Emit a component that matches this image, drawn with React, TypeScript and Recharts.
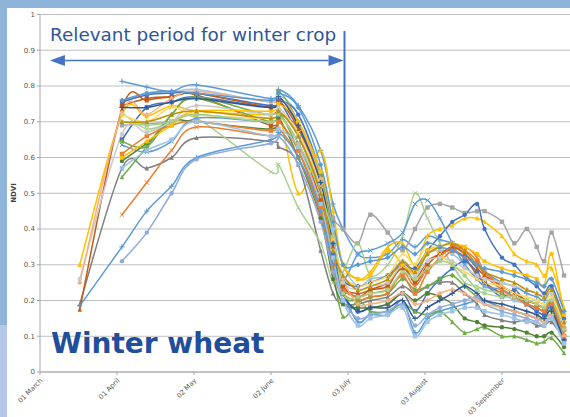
import React from "react"
import { LineChart, Line, XAxis, YAxis, CartesianGrid, ReferenceLine } from "recharts"

// days counted from 01 March
const obsDays = [16, 33, 43, 53, 63, 93, 96, 104, 113, 118, 122, 128, 133, 140, 146, 151, 156, 161, 166, 171, 176, 179, 186, 191, 196, 200, 203, 206, 211]

const tickDays = [0, 31, 62, 93, 124, 155, 186]
const tickLabels = ["01 March", "01 April", "02 May", "02 June", "03 July", "03 August", "03 September"]
const ndviTicks = [0, 0.1, 0.2, 0.3, 0.4, 0.5, 0.6, 0.7, 0.8, 0.9, 1]

const parcel01 = [null, 0.813, 0.797, 0.785, 0.803, 0.765, 0.79, 0.745, 0.62, 0.47, 0.4, 0.33, 0.32, 0.33, 0.37, 0.35, 0.38, 0.37, 0.36, 0.33, 0.3, 0.28, 0.25, 0.24, 0.22, 0.21, 0.2, 0.22, 0.14]
const parcel02 = [null, 0.755, 0.78, 0.78, 0.79, 0.755, 0.775, 0.72, 0.56, 0.4, 0.3, 0.24, 0.26, 0.27, 0.31, 0.27, 0.33, 0.34, 0.33, 0.3, 0.26, 0.24, 0.22, 0.2, 0.19, 0.17, 0.16, 0.18, 0.1]
const parcel03 = [null, 0.745, 0.765, 0.77, 0.775, 0.69, 0.72, 0.64, 0.48, 0.32, 0.24, 0.21, 0.23, 0.24, 0.3, 0.25, 0.3, 0.33, 0.34, 0.32, 0.27, 0.25, 0.22, 0.21, 0.19, 0.18, 0.17, 0.19, 0.12]
const parcel04 = [null, 0.65, 0.74, 0.755, 0.77, 0.74, 0.76, 0.66, 0.5, 0.33, 0.22, 0.17, 0.18, 0.19, 0.22, 0.17, 0.22, 0.26, 0.29, 0.31, 0.28, 0.25, 0.21, 0.23, 0.19, 0.17, 0.16, 0.18, 0.09]
const parcel05 = [0.3, 0.72, 0.715, 0.745, 0.73, 0.72, 0.74, 0.5, 0.62, 0.45, 0.3, 0.26, 0.28, 0.35, 0.36, 0.3, 0.38, 0.4, 0.41, 0.43, 0.43, 0.42, 0.38, 0.33, 0.31, 0.3, 0.27, 0.29, 0.18]
const parcel06 = [null, 0.69, 0.695, 0.7, 0.72, 0.7, 0.73, 0.66, 0.52, 0.43, 0.4, 0.36, 0.44, 0.39, 0.34, 0.4, 0.46, 0.47, 0.46, 0.445, 0.45, 0.45, 0.42, 0.36, 0.4, 0.35, 0.31, 0.39, 0.27]
const parcel07 = [0.19, 0.57, 0.57, 0.6, 0.655, 0.645, 0.63, 0.58, 0.34, 0.22, 0.19, 0.19, 0.2, 0.21, 0.24, 0.22, 0.24, 0.25, 0.25, 0.22, 0.19, 0.16, 0.145, 0.14, 0.145, 0.13, 0.13, 0.14, 0.09]
const parcel08 = [null, 0.725, 0.68, 0.7, 0.71, 0.56, 0.58, 0.46, 0.36, 0.25, 0.28, 0.36, 0.27, 0.3, 0.38, 0.5, 0.43, 0.36, 0.3, 0.25, 0.24, 0.23, 0.22, 0.21, 0.2, 0.19, 0.18, 0.2, 0.12]
const parcel09 = [null, 0.755, 0.775, 0.78, 0.78, 0.745, 0.76, 0.72, 0.55, 0.38, 0.26, 0.24, 0.25, 0.27, 0.3, 0.29, 0.34, 0.38, 0.42, 0.44, 0.47, 0.4, 0.32, 0.3, 0.26, 0.24, 0.22, 0.24, 0.15]
const parcel10 = [null, 0.635, 0.615, 0.645, 0.71, 0.7, 0.72, 0.68, 0.52, 0.36, 0.26, 0.33, 0.34, 0.36, 0.39, 0.47, 0.48, 0.43, 0.36, 0.3, 0.26, 0.24, 0.23, 0.21, 0.19, 0.18, 0.17, 0.19, 0.12]
const parcel11 = [null, 0.545, 0.63, 0.72, 0.765, 0.7, 0.73, 0.62, 0.45, 0.28, 0.155, 0.2, 0.17, 0.17, 0.19, 0.17, 0.16, 0.17, 0.14, 0.11, 0.12, 0.125, 0.1, 0.1, 0.09, 0.08, 0.085, 0.095, 0.053]
const parcel12 = [null, 0.59, 0.64, 0.7, 0.7, 0.68, 0.71, 0.6, 0.43, 0.26, 0.19, 0.18, 0.18, 0.19, 0.22, 0.2, 0.22, 0.21, 0.19, 0.15, 0.14, 0.13, 0.125, 0.12, 0.11, 0.1, 0.1, 0.11, 0.07]
const parcel13 = [null, 0.645, 0.63, 0.72, 0.77, 0.72, 0.785, 0.7, 0.55, 0.38, 0.22, 0.2, 0.21, 0.22, 0.26, 0.23, 0.24, 0.26, 0.27, 0.24, 0.21, 0.2, 0.18, 0.17, 0.16, 0.15, 0.15, 0.17, 0.1]
const parcel14 = [null, 0.44, 0.53, 0.62, 0.685, 0.66, 0.68, 0.6, 0.44, 0.29, 0.22, 0.2, 0.21, 0.22, 0.28, 0.24, 0.29, 0.31, 0.34, 0.35, 0.32, 0.28, 0.24, 0.22, 0.2, 0.19, 0.18, 0.19, 0.11]
const parcel15 = [null, 0.61, 0.66, 0.69, 0.7, 0.675, 0.7, 0.62, 0.46, 0.3, 0.23, 0.21, 0.22, 0.23, 0.27, 0.22, 0.28, 0.32, 0.35, 0.34, 0.31, 0.27, 0.23, 0.21, 0.19, 0.18, 0.17, 0.19, 0.1]
const parcel16 = [0.185, 0.35, 0.45, 0.52, 0.6, 0.65, 0.67, 0.6, 0.45, 0.3, 0.22, 0.14, 0.16, 0.16, 0.2, 0.11, 0.15, 0.17, 0.18, 0.19, 0.2, 0.2, 0.18, 0.17, 0.16, 0.15, 0.14, 0.16, 0.09]
const parcel17 = [null, 0.31, 0.39, 0.5, 0.595, 0.64, 0.66, 0.58, 0.42, 0.28, 0.2, 0.15, 0.16, 0.17, 0.19, 0.13, 0.16, 0.18, 0.19, 0.2, 0.21, 0.19, 0.17, 0.16, 0.15, 0.14, 0.13, 0.15, 0.08]
const parcel18 = [0.175, 0.735, 0.76, 0.77, 0.78, 0.74, 0.76, 0.68, 0.52, 0.35, 0.24, 0.22, 0.23, 0.25, 0.29, 0.26, 0.31, 0.33, 0.35, 0.33, 0.29, 0.27, 0.24, 0.22, 0.2, 0.19, 0.18, 0.2, 0.13]
const parcel19 = [0.26, 0.665, 0.67, 0.7, 0.745, 0.72, 0.74, 0.66, 0.5, 0.34, 0.25, 0.23, 0.24, 0.25, 0.3, 0.27, 0.31, 0.32, 0.31, 0.29, 0.27, 0.26, 0.25, 0.24, 0.23, 0.22, 0.21, 0.22, 0.14]
const parcel20 = [0.25, 0.725, 0.72, 0.765, 0.785, 0.755, 0.77, 0.7, 0.54, 0.37, 0.26, 0.19, 0.19, 0.2, 0.22, 0.19, 0.2, 0.22, 0.23, 0.22, 0.2, 0.19, 0.18, 0.17, 0.16, 0.15, 0.14, 0.16, 0.1]
const parcel21 = [null, 0.6, 0.645, 0.69, 0.73, 0.73, 0.75, 0.7, 0.56, 0.42, 0.3, 0.26, 0.27, 0.34, 0.3, 0.28, 0.34, 0.35, 0.36, 0.35, 0.33, 0.31, 0.29, 0.28, 0.27, 0.26, 0.24, 0.33, 0.16]
const parcel22 = [null, 0.72, 0.7, 0.74, 0.72, 0.71, 0.73, 0.67, 0.52, 0.37, 0.27, 0.24, 0.25, 0.27, 0.33, 0.3, 0.36, 0.33, 0.3, 0.28, 0.26, 0.25, 0.24, 0.22, 0.21, 0.2, 0.19, 0.21, 0.13]
const parcel23 = [null, 0.74, 0.74, 0.755, 0.765, 0.74, 0.77, 0.69, 0.53, 0.36, 0.22, 0.17, 0.18, 0.18, 0.2, 0.15, 0.18, 0.2, 0.22, 0.24, 0.22, 0.2, 0.19, 0.18, 0.17, 0.16, 0.15, 0.17, 0.09]
const parcel24 = [null, 0.57, 0.62, 0.65, 0.7, 0.66, 0.68, 0.63, 0.47, 0.32, 0.2, 0.13, 0.15, 0.16, 0.18, 0.1, 0.14, 0.16, 0.17, 0.18, 0.18, 0.17, 0.16, 0.15, 0.14, 0.14, 0.13, 0.15, 0.08]
const parcel25 = [null, 0.7, 0.69, 0.7, 0.72, 0.7, 0.72, 0.64, 0.5, 0.38, 0.22, 0.21, 0.22, 0.23, 0.28, 0.26, 0.29, 0.31, 0.3, 0.27, 0.23, 0.22, 0.21, 0.21, 0.2, 0.19, 0.18, 0.2, 0.12]
const parcel26 = [null, 0.7, 0.7, 0.72, 0.73, 0.71, 0.73, 0.66, 0.5, 0.34, 0.27, 0.23, 0.24, 0.26, 0.31, 0.28, 0.33, 0.35, 0.36, 0.34, 0.3, 0.28, 0.26, 0.25, 0.23, 0.22, 0.21, 0.23, 0.14]
const parcel27 = [null, 0.76, 0.78, 0.785, 0.78, 0.76, 0.78, 0.74, 0.58, 0.42, 0.3, 0.3, 0.31, 0.32, 0.35, 0.33, 0.36, 0.35, 0.34, 0.32, 0.3, 0.29, 0.28, 0.27, 0.26, 0.25, 0.24, 0.26, 0.17]

const parcels = [
  parcel01, parcel02, parcel03, parcel04, parcel05, parcel06, parcel07, parcel08, parcel09,
  parcel10, parcel11, parcel12, parcel13, parcel14, parcel15, parcel16, parcel17, parcel18,
  parcel19, parcel20, parcel21, parcel22, parcel23, parcel24, parcel25, parcel26, parcel27,
]

const parcelColors = [
  "#5B9BD5", "#9DC3E6", "#C55A11", "#4472C4", "#FFC000", "#A5A5A5", "#7F7F7F", "#A9D18E", "#4472C4",
  "#5B9BD5", "#70AD47", "#548235", "#70AD47", "#ED7D31", "#ED7D31", "#5B9BD5", "#8FAADC", "#C55A11",
  "#C9C9C9", "#F4B183", "#FFC000", "#FFD966", "#2F5597", "#9DC3E6", "#A9D18E", "#BF9000", "#5B9BD5",
]

const parcelMarkers = [
  "plus", "circle", "square", "square", "triangle", "square", "triangle", "x", "circle",
  "x", "triangle", "circle", "diamond", "x", "square", "plus", "circle", "triangle",
  "circle", "diamond", "circle", "x", "plus", "square", "circle", "triangle", "diamond",
]

const rows = obsDays.map((day, i) => {
  const row: Record<string, number | null> = { day }
  parcels.forEach((p, k) => {
    row[`p${k}`] = p[i]
  })
  return row
})

// excel-like smoothed line (catmull-rom through the points)
function excelSmooth(context: any) {
  let pts: number[][] = []
  return {
    areaStart() {},
    areaEnd() {},
    lineStart() {
      pts = []
    },
    point(x: number, y: number) {
      pts.push([+x, +y])
    },
    lineEnd() {
      if (!pts.length) return
      context.moveTo(pts[0][0], pts[0][1])
      for (let i = 0; i < pts.length - 1; i++) {
        const p0 = pts[i - 1] || pts[i]
        const p1 = pts[i]
        const p2 = pts[i + 1]
        const p3 = pts[i + 2] || p2
        context.bezierCurveTo(
          p1[0] + (p2[0] - p0[0]) / 6,
          p1[1] + (p2[1] - p0[1]) / 6,
          p2[0] - (p3[0] - p1[0]) / 6,
          p2[1] - (p3[1] - p1[1]) / 6,
          p2[0],
          p2[1]
        )
      }
    },
  }
}

function markerDot(shape: string, color: string) {
  return (props: any) => {
    const { cx, cy, index } = props
    const key = `m-${index}`
    if (cx == null || cy == null || props.value == null) return <g key={key} />
    const s = 2.2
    switch (shape) {
      case "square":
        return <rect key={key} x={cx - s} y={cy - s} width={s * 2} height={s * 2} fill={color} />
      case "triangle":
        return <polygon key={key} points={`${cx},${cy - s - 0.5} ${cx - s},${cy + s} ${cx + s},${cy + s}`} fill={color} />
      case "diamond":
        return <polygon key={key} points={`${cx},${cy - s - 0.5} ${cx + s + 0.5},${cy} ${cx},${cy + s + 0.5} ${cx - s - 0.5},${cy}`} fill={color} />
      case "x":
        return (
          <path key={key} d={`M${cx - s},${cy - s}L${cx + s},${cy + s}M${cx - s},${cy + s}L${cx + s},${cy - s}`} stroke={color} strokeWidth={1} />
        )
      case "plus":
        return <path key={key} d={`M${cx - s - 0.5},${cy}H${cx + s + 0.5}M${cx},${cy - s - 0.5}V${cy + s + 0.5}`} stroke={color} strokeWidth={1} />
      default:
        return <circle key={key} cx={cx} cy={cy} r={s} fill={color} />
    }
  }
}

function DateTick({ x, payload }: any) {
  const idx = tickDays.indexOf(payload.value)
  // label end sits just below-right of the tick mark
  const tx = x + 3
  const ty = 381
  return (
    <text
      x={tx}
      y={ty}
      transform={`rotate(-45 ${tx} ${ty})`}
      textAnchor="end"
      fontSize={6.8}
      fontFamily="DejaVu Sans"
      fill="#595959"
    >
      {tickLabels[idx]}
    </text>
  )
}

function PeriodArrow({ x1, y1, x2, y2 }: any) {
  const head = 15
  const half = 5.5
  return (
    <g>
      <line x1={x1 + head} y1={y1} x2={x2 - head} y2={y2} stroke="#4472C4" strokeWidth={1.5} />
      <polygon points={`${x1},${y1} ${x1 + head},${y1 - half} ${x1 + head},${y1 + half}`} fill="#4472C4" />
      <polygon points={`${x2},${y2} ${x2 - head},${y2 - half} ${x2 - head},${y2 + half}`} fill="#4472C4" />
    </g>
  )
}

export default function App() {
  return (
    <div style={{ position: "fixed", left: 0, top: 0, width: 570, height: 417, background: "#8FB4DA" }}>
      <div style={{ position: "absolute", left: 0, top: 325, width: 7, height: 92, background: "#B4C7E7" }} />
      <div style={{ position: "absolute", left: 7, top: 8, width: 563, height: 409, background: "#FFFFFF" }} />
      <div style={{ position: "absolute", left: 0, top: 0 }}>
        <LineChart width={570} height={417} data={rows} margin={{ top: 14.5, right: 0, bottom: 0, left: 7 }}>
          <CartesianGrid vertical={false} stroke="#BFBFBF" strokeWidth={1} />
          <XAxis
            dataKey="day"
            type="number"
            domain={[0, 213.4]}
            ticks={tickDays}
            tick={<DateTick />}
            tickSize={3}
            height={45}
            stroke="#A6A6A6"
            interval={0}
            allowDataOverflow
          />
          <YAxis
            type="number"
            domain={[0, 1]}
            ticks={ndviTicks}
            width={33}
            tickSize={3}
            stroke="#A6A6A6"
            tick={{ fontSize: 7, fill: "#595959", fontFamily: "DejaVu Sans" }}
            tickFormatter={(v: number) => (v === 0 || v === 1 ? String(v) : v.toFixed(1))}
            interval={0}
          />
          {parcels.map((_, k) => (
            <Line
              key={k}
              dataKey={`p${k}`}
              type={excelSmooth as any}
              stroke={parcelColors[k]}
              strokeWidth={1.5}
              dot={markerDot(parcelMarkers[k], parcelColors[k])}
              activeDot={false}
              isAnimationActive={false}
            />
          ))}
          <ReferenceLine
            segment={[
              { x: 122.6, y: 0.4 },
              { x: 122.6, y: 0.954 },
            ]}
            stroke="#4472C4"
            strokeWidth={2}
          />
          <ReferenceLine
            segment={[
              { x: 4, y: 0.871 },
              { x: 122.2, y: 0.871 },
            ]}
            shape={<PeriodArrow />}
          />
        </LineChart>
      </div>
      <svg width={570} height={417} style={{ position: "absolute", left: 0, top: 0, pointerEvents: "none" }}>
        <text x={50} y={41} fontFamily="DejaVu Sans" fontSize={18.4} fill="#2F5597">
          Relevant period for winter crop
        </text>
        <text x={51} y={353} fontFamily="DejaVu Sans" fontWeight="bold" fontSize={28} fill="#1F4E9C">
          Winter wheat
        </text>
        <text
          x={16}
          y={193}
          transform="rotate(-90 16 193)"
          textAnchor="middle"
          fontFamily="DejaVu Sans"
          fontWeight="bold"
          fontSize={7}
          fill="#404040"
        >
          NDVI
        </text>
      </svg>
    </div>
  )
}
